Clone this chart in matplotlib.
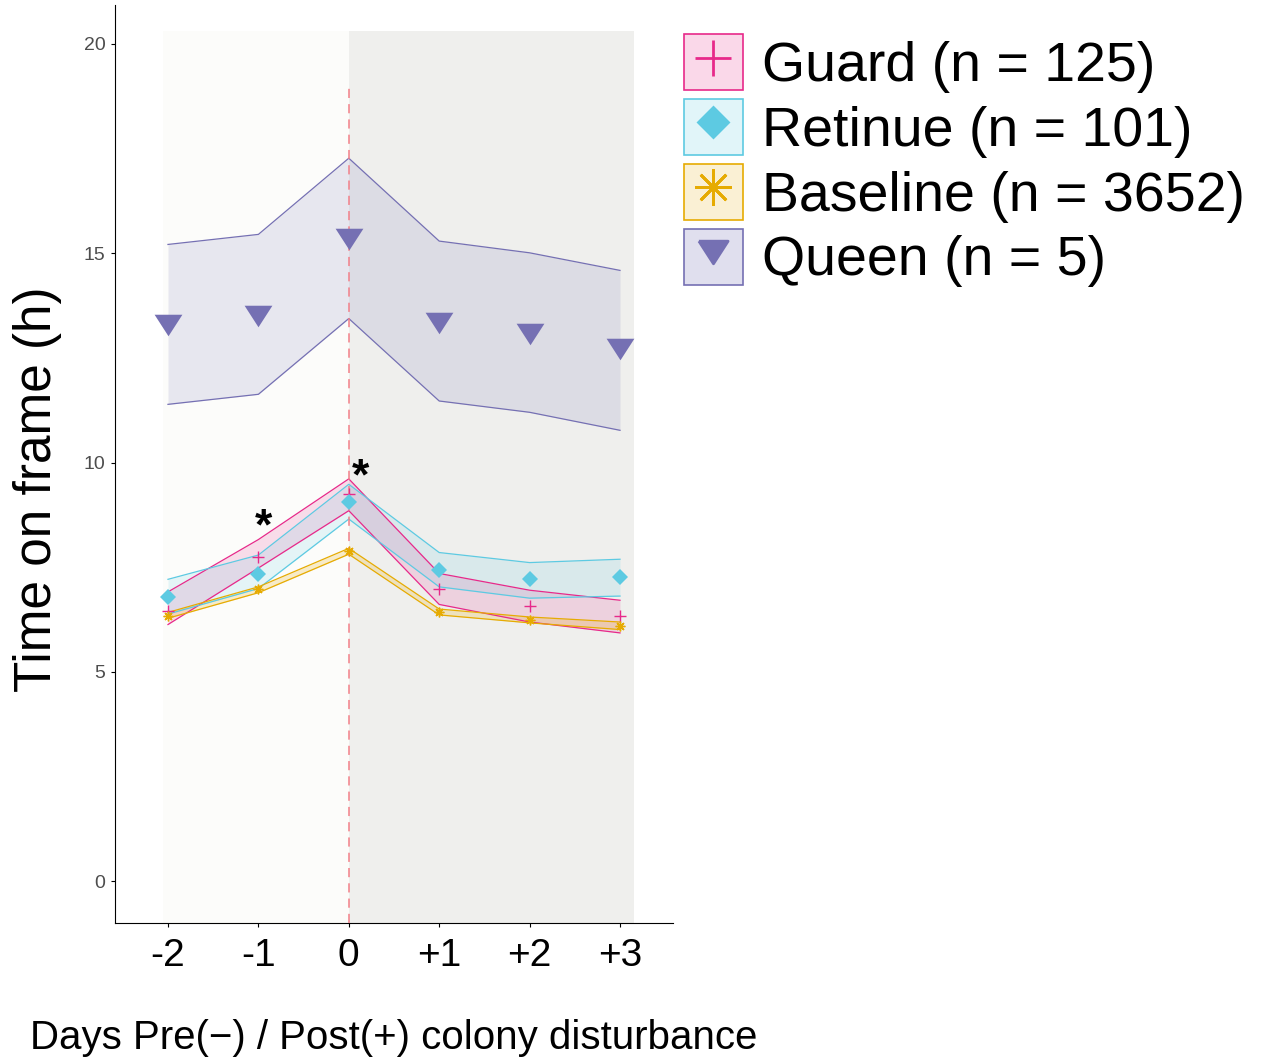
import numpy as np
import matplotlib
matplotlib.use("Agg")
import matplotlib.pyplot as plt
from matplotlib.patches import Patch
from matplotlib.lines import Line2D

plt.rcParams['font.family'] = ['Liberation Sans', 'DejaVu Sans']

# --- data ---
days = [-2, -1, 0, 1, 2, 3]
day_labels = ['-2', '-1', '0', '+1', '+2', '+3']

guard_mean = [6.45, 7.75, 9.24, 6.98, 6.57, 6.34]
guard_hi = [6.91, 8.16, 9.61, 7.35, 6.95, 6.71]
guard_lo = [6.13, 7.48, 8.85, 6.61, 6.19, 5.93]

retinue_mean = [6.79, 7.33, 9.06, 7.43, 7.21, 7.26]
retinue_hi = [7.21, 7.79, 9.48, 7.85, 7.61, 7.69]
retinue_lo = [6.38, 6.99, 8.65, 7.03, 6.76, 6.81]

baseline_mean = [6.33, 6.97, 7.89, 6.43, 6.23, 6.10]
baseline_hi = [6.42, 7.03, 7.95, 6.50, 6.31, 6.19]
baseline_lo = [6.28, 6.89, 7.81, 6.36, 6.17, 6.01]

queen_mean = [13.29, 13.50, 15.34, 13.33, 13.07, 12.71]
queen_hi = [15.21, 15.45, 17.27, 15.29, 15.01, 14.59]
queen_lo = [11.39, 11.63, 13.44, 11.47, 11.20, 10.77]

labels = ['Guard (n = 125)', 'Retinue (n = 101)', 'Baseline (n = 3652)', 'Queen (n = 5)']
colors = ['#E7298A', '#5DCAE2', '#E6AB02', '#7570B3']

# significance stars: (x, y)
star_x = [-0.94, 0.13]
star_y = [8.63, 9.82]

# flat down-pointing triangle like ggplot's shape 25
tri_down = [(-1, 0.775), (1, 0.775), (0, -0.775), (-1, 0.775)]

W, H = 1266, 1057
fig = plt.figure(figsize=(W / 100, H / 100), dpi=100)
ax = fig.add_axes([115 / W, 1 - 923 / H, 558 / W, 918 / H])

ylo, yhi = -1.0, 20.93
ax.set_ylim(ylo, yhi)
ax.set_xlim(-2.586, 3.586)

# pre / post shading
shade_top = (20.3 - ylo) / (yhi - ylo)
ax.axvspan(-2.05, 0, ymin=0, ymax=shade_top, color='#FCFCFA', lw=0, zorder=0)
ax.axvspan(0, 3.15, ymin=0, ymax=shade_top, color='#EFEFED', lw=0, zorder=0)
ax.plot([0, 0], [ylo, 19.0], ls=(0, (6, 4)), color='#F27F88', lw=1.1, zorder=3.5)

groups = [
    (guard_mean, guard_lo, guard_hi, '+', 9, 1.0),
    (retinue_mean, retinue_lo, retinue_hi, 'D', 8, 0),
    (baseline_mean, baseline_lo, baseline_hi, (8, 2, 0), 7, 1.0),
    (queen_mean, queen_lo, queen_hi, tri_down, 20, 0),
]
alphas = [0.15, 0.15, 0.2, 0.15]

for (m, lo, hi, mk, ms, mew), c, a in zip(groups, colors, alphas):
    ax.fill_between(days, lo, hi, color=c, alpha=a, lw=0, zorder=2)
    ax.plot(days, hi, color=c, lw=0.9, zorder=3)
    ax.plot(days, lo, color=c, lw=0.9, zorder=3)
    ax.plot(days, m, ls='none', marker=mk, ms=ms, color=c, mew=mew, zorder=4)

for sx, sy in zip(star_x, star_y):
    ax.annotate('*', (sx, sy), xytext=(0, -6), textcoords='offset points',
                fontsize=32, fontweight='bold', ha='center', va='center', zorder=5)

ax.set_xticks(days)
ax.set_xticklabels(day_labels, fontsize=28)
ax.set_yticks([0, 5, 10, 15, 20])
ax.tick_params(axis='y', labelsize=14, labelcolor='#4D4D4D', length=3, width=0.8, pad=4)
ax.tick_params(axis='x', length=3, width=0.8, pad=8)
for s in ['top', 'right']:
    ax.spines[s].set_visible(False)
for s in ['left', 'bottom']:
    ax.spines[s].set_linewidth(0.8)

ax.set_ylabel('Time on frame (h)', fontsize=37)
ax.yaxis.set_label_coords(-0.095, 0.472)
ax.set_xlabel('Days Pre(\u2212) / Post(+) colony disturbance', fontsize=29, labelpad=32)

# legend
leg_markers = ['+', 'D', (8, 2, 0), tri_down]
leg_ms = [26, 15, 26, 21]
leg_alpha = [0.18, 0.18, 0.17, 0.22]
handles = []
for c, a, mk, ms in zip(colors, leg_alpha, leg_markers, leg_ms):
    box = Patch(facecolor=matplotlib.colors.to_rgba(c, a), edgecolor=c, lw=1.2)
    dot = Line2D([], [], ls='none', marker=mk, ms=ms, color=c, mew=2.0)
    handles.append((box, dot))
fig.legend(handles, labels, loc='upper left', bbox_to_anchor=(662 / W, 1 - 12 / H),
           frameon=False, fontsize=40, handlelength=1.05, handleheight=1.17,
           labelspacing=0.11, handletextpad=0.35, borderaxespad=0)

fig.savefig('out.png', dpi=100)
